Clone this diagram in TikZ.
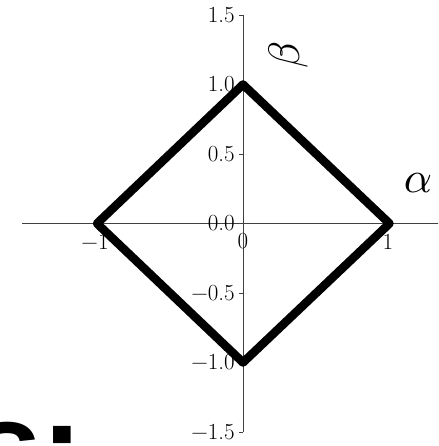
\documentclass[tikz,border=0pt]{standalone}
\usepackage{fontspec}
\newfontfamily\bigsans{Liberation Sans}
\tikzset{
  axisline/.style={draw=black!75, line width=0.9pt},
  ticklabel/.style={inner sep=0pt, font=\fontsize{23}{27}\selectfont},
  greek/.style={inner sep=0pt},
  diamond/.style={draw=black, line width=8.5pt, line join=round, line cap=round},
}
\begin{document}
\begin{tikzpicture}[x=1pt, y=-1pt]
\useasboundingbox (0,0) rectangle (438,446);
\clip (0,0) rectangle (438,446);
% axes
\coordinate (xl) at (22,223.5);
\coordinate (xr) at (440,223.5);
\coordinate (yt) at (243,15);
\coordinate (yb) at (243,432);
\draw[axisline] (xl) -- (xr);
\draw[axisline] (yt) -- (yb);
% y ticks and labels
\foreach \v/\lab in {1.5/1.5, 1.0/1.0, 0.5/0.5, 0.0/0.0, -0.5/\char"2212 0.5, -1.0/\char"2212 1.0, -1.5/\char"2212 1.5}{
  \pgfmathsetmacro{\yy}{223.5-139*\v}
  \draw[axisline] (239,\yy) -- (243,\yy);
  \node[ticklabel, anchor=east] (yl\v) at (235,\yy) {\lab};
}
% x tick labels
\node[ticklabel] (xm1) at (95,241.5) {\char"2212 1};
\node[ticklabel] (x0) at (243,241.5) {0};
\node[ticklabel] (x1) at (388,241.5) {1};
% diamond
\coordinate (top) at (243,84.5);
\coordinate (right) at (389.5,223.5);
\coordinate (bot) at (243,362.5);
\coordinate (left) at (97,223.5);
\draw[diamond] (top) -- (right) -- (bot) -- (left) -- cycle;
% axis names
\node[greek] (alpha) at (418,183) {\scalebox{4.4}{$\alpha$}};
\node[greek, rotate=90] (beta) at (288,55) {\scalebox{4.4}{$\beta$}};
% cropped big text
\node[inner sep=0pt, anchor=base west, font=\bigsans\bfseries\fontsize{125}{130}\selectfont] (big) at (-28,489) {s:};
\end{tikzpicture}
\end{document}
